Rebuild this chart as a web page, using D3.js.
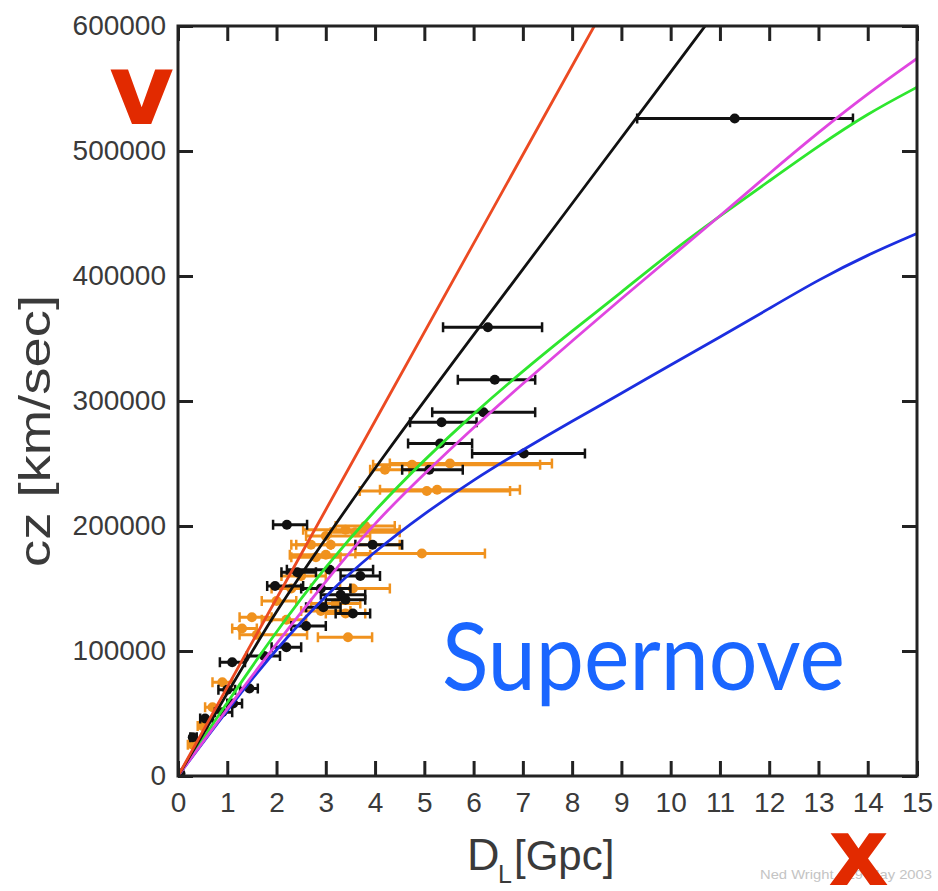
<!DOCTYPE html>
<html>
<head>
<meta charset="utf-8">
<script src="https://cdn.jsdelivr.net/npm/d3@7"></script>
<style>
  body { margin: 0; background: #fff; }
  svg { display: block; }
</style>
</head>
<body>
<script>
// axis ticks
const xTicks = d3.range(0, 16)
const yTicks = [0, 100000, 200000, 300000, 400000, 500000, 600000]

// model curves (D_L in Gpc, cz in km/sec)
const redD = [0, 2, 4, 6, 8.45]
const redV = [0, 142000, 284000, 426000, 600000]
const blackD = [0, 1, 2, 3, 4, 6, 8, 10, 10.7]
const blackV = [0, 66000, 133000, 190000, 247000, 353000, 458000, 563000, 600000]
const magentaD = [0, 1, 2, 3, 4, 5, 6, 7, 8, 9, 10, 11, 12, 13, 14, 15]
const magentaV = [0, 54000, 106000, 156000, 203000, 242000, 279000, 314000, 348000, 382000, 415000, 448000, 482000, 515000, 546000, 574000]
const greenD = [0, 1, 2, 3, 4, 5, 6, 7, 8, 9, 10, 11, 12, 13, 14, 15]
const greenV = [0, 59000, 116000, 168000, 213000, 253000, 290000, 324000, 356000, 387000, 419000, 448000, 476000, 504000, 530000, 551000]
const blueD = [0, 1, 2, 3, 4, 5, 6, 7, 8, 9, 10, 11, 12, 13, 14, 15]
const blueV = [0, 53000, 102000, 145000, 180000, 210000, 237000, 261000, 284000, 306000, 329000, 351000, 374000, 397000, 417000, 434000]

// supernovae, black set
const blackPtD  = [11.30, 6.29, 6.43, 6.20, 5.35, 5.32, 7.02, 5.10, 2.21, 3.95, 3.08, 1.97, 2.42, 3.30, 3.55, 2.95, 2.90, 3.40, 1.10, 1.75, 1.00, 1.45, 1.12, 0.55, 0.90, 0.30, 0.05, 2.60, 3.70, 2.20]
const blackPtV  = [526000, 359000, 317000, 291000, 283000, 266000, 258000, 245000, 201000, 185000, 165000, 152000, 163000, 145000, 130000, 135000, 150000, 141000, 91000, 96000, 69000, 70000, 58000, 46000, 51000, 31000, 2000, 120000, 160000, 103000]
const blackPtLo = [9.32, 5.38, 5.68, 5.16, 4.71, 4.67, 5.97, 4.55, 1.93, 3.60, 2.21, 1.81, 2.10, 2.90, 3.20, 2.60, 2.50, 3.00, 0.85, 1.40, 0.82, 1.26, 1.00, 0.45, 0.75, 0.25, 0.00, 2.30, 3.30, 1.90]
const blackPtHi = [13.70, 7.39, 7.25, 7.25, 6.06, 5.97, 8.26, 5.78, 2.62, 4.55, 3.96, 2.54, 2.80, 3.80, 3.90, 3.30, 3.50, 3.80, 1.36, 2.07, 1.16, 1.62, 1.30, 0.71, 1.10, 0.38, 0.10, 3.00, 4.10, 2.50]

// supernovae, orange set
const orangePtD  = [4.75, 5.52, 5.05, 5.26, 4.95, 3.00, 3.40, 3.00, 3.60, 3.10, 3.55, 3.20, 2.90, 3.40, 1.50, 1.60, 3.45, 2.50, 2.80, 2.30, 2.00, 1.30, 0.30, 0.50, 0.70, 0.90, 4.20, 3.80, 2.70, 2.20]
const orangePtV  = [249000, 250000, 228000, 229000, 178000, 177000, 197000, 192000, 195000, 185000, 150000, 138000, 132000, 130000, 127000, 113000, 111000, 160000, 175000, 150000, 140000, 118000, 25000, 40000, 55000, 75000, 245000, 200000, 185000, 125000]
const orangePtLo = [3.96, 4.30, 3.69, 4.10, 3.60, 2.27, 2.54, 2.60, 3.10, 2.40, 3.29, 2.70, 2.50, 3.00, 1.25, 1.25, 2.84, 2.10, 2.30, 1.90, 1.70, 1.10, 0.20, 0.40, 0.55, 0.70, 3.90, 3.20, 2.30, 1.70]
const orangePtHi = [7.35, 7.59, 6.74, 6.94, 6.23, 3.90, 4.50, 3.90, 4.50, 4.50, 4.30, 3.70, 3.50, 3.80, 1.90, 2.62, 3.94, 3.00, 3.30, 2.70, 2.40, 1.60, 0.40, 0.60, 0.85, 1.10, 4.70, 4.40, 3.10, 2.60]

const width = 938
const height = 891
const margin = {top: 26, right: 21, bottom: 115, left: 178}
const axisFont = '"Liberation Sans", Arial, Helvetica, sans-serif'
const ink = '#222'

const svg = d3.select('body').append('svg')
  .attr('width', width)
  .attr('height', height)

const x = d3.scaleLinear().domain([0, 15]).range([margin.left, width - margin.right])
const y = d3.scaleLinear().domain([0, 600000]).range([height - margin.bottom, margin.top])

svg.append('clipPath').attr('id', 'plot')
  .append('rect')
  .attr('x', x(0)).attr('y', y(600000))
  .attr('width', x(15) - x(0)).attr('height', y(0) - y(600000))

// error bars + points
function drawPoints(D, V, lo, hi, color) {
  const pts = D.map((d, i) => ({d: d, v: V[i], lo: lo[i], hi: hi[i]}))
  const g = svg.append('g').attr('clip-path', 'url(#plot)')
  const p = g.selectAll('g').data(pts).enter().append('g')
  p.append('line')
    .attr('x1', d => x(d.lo)).attr('x2', d => x(d.hi))
    .attr('y1', d => y(d.v)).attr('y2', d => y(d.v))
    .attr('stroke', color).attr('stroke-width', 3)
  p.append('line')
    .attr('x1', d => x(d.lo)).attr('x2', d => x(d.lo))
    .attr('y1', d => y(d.v) - 5).attr('y2', d => y(d.v) + 5)
    .attr('stroke', color).attr('stroke-width', 2.5)
  p.append('line')
    .attr('x1', d => x(d.hi)).attr('x2', d => x(d.hi))
    .attr('y1', d => y(d.v) - 5).attr('y2', d => y(d.v) + 5)
    .attr('stroke', color).attr('stroke-width', 2.5)
  p.append('circle')
    .attr('cx', d => x(d.d)).attr('cy', d => y(d.v))
    .attr('r', 5)
    .attr('fill', color)
}
drawPoints(orangePtD, orangePtV, orangePtLo, orangePtHi, '#f0921e')
drawPoints(blackPtD, blackPtV, blackPtLo, blackPtHi, '#111')

// model curves
const line = d3.line()
  .x(d => x(d[0]))
  .y(d => y(d[1]))
  .curve(d3.curveBasis)

const curves = [
  {D: blueD, V: blueV, color: '#1c2ee0'},
  {D: greenD, V: greenV, color: '#2ee62e'},
  {D: magentaD, V: magentaV, color: '#e046e0'},
  {D: blackD, V: blackV, color: '#111'},
  {D: redD, V: redV, color: '#ec4a22'}
]
svg.append('g').attr('clip-path', 'url(#plot)')
  .selectAll('path')
  .data(curves)
  .enter()
  .append('path')
  .attr('d', c => line(c.D.map((d, i) => [d, c.V[i]])))
  .attr('fill', 'none')
  .attr('stroke', c => c.color)
  .attr('stroke-width', 2.8)

// axes, ticks pointing inward on all four sides
function styleAxis(g) {
  g.select('.domain').remove()
  g.selectAll('.tick line').attr('stroke', ink).attr('stroke-width', 3)
  g.selectAll('.tick text').attr('fill', '#3a3a3a')
  g.attr('font-size', 28).attr('font-family', axisFont)
}

svg.append('g')
  .attr('transform', `translate(0,${y(0)})`)
  .call(d3.axisBottom(x).tickValues(xTicks).tickSizeInner(-15).tickSizeOuter(0).tickPadding(16))
  .call(styleAxis)

svg.append('g')
  .attr('transform', `translate(0,${y(600000)})`)
  .call(d3.axisTop(x).tickValues(xTicks).tickSizeInner(-15).tickSizeOuter(0).tickFormat(''))
  .call(styleAxis)

svg.append('g')
  .attr('transform', `translate(${x(0)},0)`)
  .call(d3.axisLeft(y).tickValues(yTicks).tickSizeInner(-15).tickSizeOuter(0).tickPadding(12).tickFormat(d3.format('d')))
  .call(styleAxis)

svg.append('g')
  .attr('transform', `translate(${x(15)},0)`)
  .call(d3.axisRight(y).tickValues(yTicks).tickSizeInner(-15).tickSizeOuter(0).tickFormat(''))
  .call(styleAxis)

svg.append('rect')
  .attr('x', x(0)).attr('y', y(600000))
  .attr('width', x(15) - x(0)).attr('height', y(0) - y(600000))
  .attr('fill', 'none')
  .attr('stroke', ink)
  .attr('stroke-width', 3)

// axis titles
const xt = svg.append('text')
  .attr('font-family', axisFont)
  .attr('fill', '#3a3a3a')
xt.append('tspan').attr('x', 467).attr('y', 870).attr('font-size', 45).text('D')
xt.append('tspan').attr('x', 498).attr('y', 883).attr('font-size', 25).text('L')
xt.append('tspan').attr('x', 514).attr('y', 870).attr('font-size', 42).text('[Gpc]')

svg.append('text')
  .attr('transform', 'translate(50,431) rotate(-90)')
  .attr('text-anchor', 'middle')
  .attr('font-family', axisFont)
  .attr('font-size', 45)
  .attr('fill', '#3a3a3a')
  .attr('textLength', 272)
  .attr('lengthAdjust', 'spacingAndGlyphs')
  .text('cz [km/sec]')

// annotations
svg.append('text')
  .attr('x', 846).attr('y', 879)
  .attr('text-anchor', 'middle')
  .attr('font-family', axisFont)
  .attr('font-size', 13)
  .attr('fill', '#c4c4c4')
  .attr('textLength', 172)
  .attr('lengthAdjust', 'spacingAndGlyphs')
  .text('Ned Wright - 19 May 2003')

svg.append('text')
  .attr('x', 442).attr('y', 690)
  .attr('font-family', 'Lato, "Open Sans", sans-serif')
  .attr('font-size', 94)
  .attr('fill', '#1a66ff')
  .attr('textLength', 403)
  .attr('lengthAdjust', 'spacingAndGlyphs')
  .text('Supernove')

svg.append('text')
  .attr('x', 141.5).attr('y', 124)
  .attr('text-anchor', 'middle')
  .attr('font-family', '"DejaVu Sans", sans-serif')
  .attr('font-weight', 'bold')
  .attr('font-size', 100)
  .attr('fill', '#e22a00')
  .text('v')

svg.append('text')
  .attr('x', 858.5).attr('y', 885)
  .attr('text-anchor', 'middle')
  .attr('font-family', '"DejaVu Sans", sans-serif')
  .attr('font-weight', 'bold')
  .attr('font-size', 94)
  .attr('fill', '#e22a00')
  .text('x')
</script>
</body>
</html>
